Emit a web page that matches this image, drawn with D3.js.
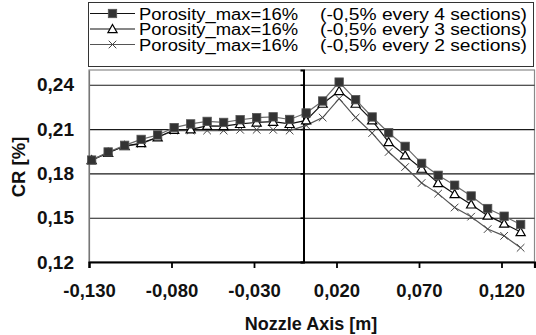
<!DOCTYPE html>
<html>
<head>
<meta charset="utf-8">
<script src="https://cdn.jsdelivr.net/npm/d3@7"></script>
<style>
  html, body { margin: 0; padding: 0; background: #fff; }
  svg { display: block; font-family: "Liberation Sans", Arial, sans-serif; }
</style>
</head>
<body>
<svg id="chart" width="536" height="335"></svg>
<script>
// Positions along the nozzle axis [m]
const nozzleX = [-0.1284, -0.1184, -0.1084, -0.0984, -0.0884, -0.0784, -0.0684, -0.0584, -0.0484,
  -0.0384, -0.0284, -0.0184, -0.0084, 0.0016, 0.0116, 0.0216, 0.0316, 0.0416, 0.0516,
  0.0616, 0.0716, 0.0816, 0.0916, 0.1016, 0.1116, 0.1216, 0.1316];

// CR [%] for each porosity reduction scheme
const every4 = [0.189, 0.1945, 0.199, 0.203, 0.206, 0.211, 0.2135, 0.2152, 0.2145, 0.2163, 0.2177,
  0.2183, 0.2165, 0.2209, 0.229, 0.2418, 0.2299, 0.2182, 0.2075, 0.1983, 0.1868, 0.1787, 0.172,
  0.1647, 0.1562, 0.151, 0.1454];
const every3 = [0.189, 0.194, 0.1985, 0.2005, 0.2045, 0.2095, 0.2098, 0.2122, 0.212, 0.2135, 0.2145,
  0.215, 0.2135, 0.2159, 0.2272, 0.2358, 0.2272, 0.2159, 0.2012, 0.1922, 0.1832, 0.1735, 0.1660,
  0.159, 0.1514, 0.146, 0.1403];
const every2 = [0.189, 0.194, 0.1985, 0.2, 0.2045, 0.209, 0.209, 0.209, 0.209, 0.2095, 0.2095,
  0.2095, 0.209, 0.2125, 0.2178, 0.2306, 0.2178, 0.2073, 0.1945, 0.1843, 0.1735, 0.1663, 0.1569,
  0.1507, 0.1423, 0.1377, 0.1296];

const xTicks = [-0.13, -0.08, -0.03, 0.02, 0.07, 0.12];
const yTicks = [0.12, 0.15, 0.18, 0.21, 0.24];
const legendNames = ["Porosity_max=16%", "Porosity_max=16%", "Porosity_max=16%"];
const legendNotes = ["(-0,5% every 4 sections)", "(-0,5% every 3 sections)", "(-0,5% every 2 sections)"];

const locale = d3.formatLocale({decimal: ",", thousands: ".", grouping: [3], currency: ["", ""], minus: "-"});
const fmtX = locale.format(".3f");
const fmtY = locale.format(".2f");

const svg = d3.select("#chart");
const x = d3.scaleLinear().domain([-0.13, 0.14]).range([89, 534.5]);
const y = d3.scaleLinear().domain([0.12, 0.25]).range([262, 70]);

// Plot frame
svg.append("rect")
  .attr("x", x.range()[0]).attr("y", y.range()[1])
  .attr("width", x.range()[1] - x.range()[0]).attr("height", y.range()[0] - y.range()[1])
  .attr("fill", "#fff").attr("stroke", "#8a8a8a").attr("stroke-width", 1.2);

// Horizontal gridlines
const grid = svg.append("g").attr("transform", `translate(${x.range()[0]},0)`)
  .call(d3.axisLeft(y).tickValues(yTicks.filter(v => v > 0.12)).tickSize(-(x.range()[1] - x.range()[0])).tickFormat(""));
grid.select(".domain").remove();
grid.selectAll(".tick line").attr("stroke", "#1a1a1a").attr("stroke-width", 1.1);

// Y tick labels along the left edge
const yLab = svg.append("g").attr("transform", `translate(${x.range()[0]},0)`)
  .call(d3.axisLeft(y).tickValues(yTicks).tickSize(0).tickPadding(15).tickFormat(fmtY));
yLab.select(".domain").attr("stroke", "#777").attr("stroke-width", 1.2);
yLab.selectAll("text").attr("font-size", 19).attr("font-weight", "bold").attr("fill", "#111")
  .attr("font-family", "'Liberation Sans', Arial, sans-serif");

// Vertical axis crossing at x = 0
const yAxis0 = svg.append("g").attr("transform", `translate(${x(0)},0)`)
  .call(d3.axisLeft(y).tickValues(yTicks).tickSize(3).tickFormat(""));
yAxis0.select(".domain").attr("stroke", "#000").attr("stroke-width", 2);
yAxis0.selectAll(".tick line").attr("stroke", "#000").attr("stroke-width", 1.5);

// X axis
const xAxis = svg.append("g").attr("transform", `translate(0,${y.range()[0]})`)
  .call(d3.axisBottom(x).tickValues(xTicks).tickSize(6).tickPadding(16).tickFormat(fmtX));
xAxis.select(".domain").attr("stroke", "#000").attr("stroke-width", 2.2);
xAxis.selectAll(".tick line").attr("stroke", "#000").attr("stroke-width", 1.8);
xAxis.selectAll("text").attr("font-size", 18.5).attr("font-weight", "bold").attr("fill", "#111")
  .attr("font-family", "'Liberation Sans', Arial, sans-serif");

// Axis titles
svg.append("text").attr("x", 311).attr("y", 330).attr("text-anchor", "middle")
  .attr("font-size", 18).attr("font-weight", "bold").attr("fill", "#111").text("Nozzle Axis [m]");
svg.append("text").attr("transform", "translate(25,167) rotate(-90)").attr("text-anchor", "middle")
  .attr("font-size", 18.5).attr("font-weight", "bold").attr("fill", "#111").text("CR [%]");

// Series
const series = [
  {vals: every4, line: "#6a6a6a", marker: "square"},
  {vals: every3, line: "#111", marker: "triangle"},
  {vals: every2, line: "#555", marker: "cross"}
];

const line = d3.line().x(d => x(d[0])).y(d => y(d[1]));

function drawMarker(g, type, cx, cy) {
  if (type === "square") {
    g.append("rect").attr("x", cx - 4.2).attr("y", cy - 4.2).attr("width", 8.4).attr("height", 8.4)
      .attr("fill", "#333").attr("stroke", "#555").attr("stroke-width", 0.8);
  } else if (type === "triangle") {
    g.append("path").attr("d", `M${cx},${cy - 4.5}L${cx + 4.6},${cy + 3.6}L${cx - 4.6},${cy + 3.6}Z`)
      .attr("fill", "#fff").attr("stroke", "#000").attr("stroke-width", 1.2);
  } else {
    g.append("path").attr("d", `M${cx - 3.8},${cy - 3.8}L${cx + 3.8},${cy + 3.8}M${cx - 3.8},${cy + 3.8}L${cx + 3.8},${cy - 3.8}`)
      .attr("fill", "none").attr("stroke", "#444").attr("stroke-width", 1);
  }
}

series.slice().reverse().forEach(s => {
  const pts = nozzleX.map((xv, i) => [xv, s.vals[i]]);
  svg.append("path").datum(pts).attr("d", line)
    .attr("fill", "none").attr("stroke", s.line).attr("stroke-width", 1.2);
  const mg = svg.append("g");
  pts.forEach(p => drawMarker(mg, s.marker, x(p[0]), y(p[1])));
});

// Legend
const lg = svg.append("g");
lg.append("rect").attr("x", 88.5).attr("y", 2.5).attr("width", 445).attr("height", 64)
  .attr("fill", "#fff").attr("stroke", "#333").attr("stroke-width", 1);
const rowY = [13.5, 29, 44.5];
series.forEach((s, i) => {
  const ry = rowY[i];
  lg.append("line").attr("x1", 90).attr("x2", 135).attr("y1", ry).attr("y2", ry)
    .attr("stroke", i === 2 ? "#555" : "#111").attr("stroke-width", 1.2);
  drawMarker(lg, s.marker, 112.5, ry);
  lg.append("text").attr("x", 139).attr("y", ry + 6).attr("font-size", 16)
    .attr("textLength", 159).attr("lengthAdjust", "spacingAndGlyphs").attr("fill", "#000")
    .text(legendNames[i]);
  lg.append("text").attr("x", 320).attr("y", ry + 6).attr("font-size", 16)
    .attr("textLength", 207).attr("lengthAdjust", "spacingAndGlyphs").attr("fill", "#000")
    .text(legendNotes[i]);
});
</script>
</body>
</html>
